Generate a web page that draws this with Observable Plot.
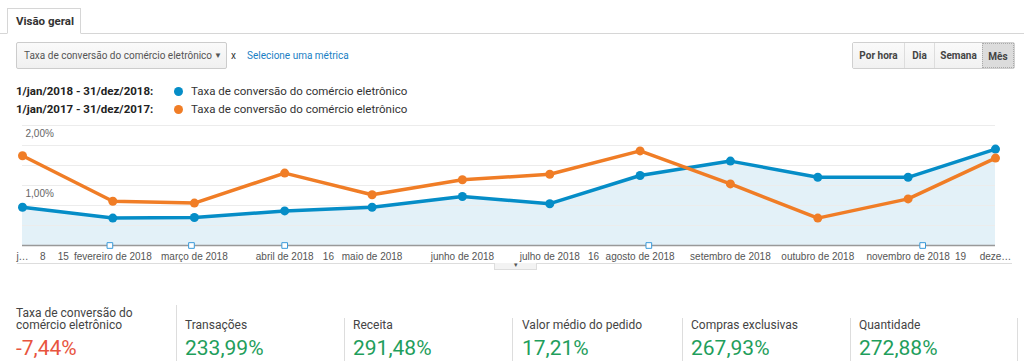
<!DOCTYPE html>
<html><head><meta charset="utf-8">
<script src="https://cdn.jsdelivr.net/npm/d3@7"></script>
<script src="https://cdn.jsdelivr.net/npm/@observablehq/plot@0.6"></script>
<style>
html,body{margin:0;padding:0;background:#fff;}
#root{position:relative;width:1024px;height:361px;overflow:hidden;font-family:Roboto,"Liberation Sans",Arial,sans-serif;color:#333;}
.abs{position:absolute;white-space:nowrap;}
.tabline{position:absolute;left:0;top:33px;width:1024px;height:1px;background:#d6d6d6;}
.tab{position:absolute;left:7px;top:8px;width:74px;height:26px;border:1px solid #d6d6d6;border-bottom:1px solid #fff;background:#fff;box-sizing:border-box;font-weight:bold;font-size:11.5px;color:#333;line-height:25px;padding-left:8px;white-space:nowrap;}
.dd{position:absolute;left:16px;top:42px;width:211px;height:27px;border:1px solid #ccc;border-radius:2px;box-sizing:border-box;background:linear-gradient(#fafafa,#f0f0f0);font-size:10px;color:#555;line-height:25px;padding-left:7px;white-space:nowrap;}
.dd .arr{position:absolute;left:197px;top:0;font-size:8px;color:#555;}
.btns{position:absolute;left:852px;top:42px;height:27px;display:flex;border:1px solid #d0d0d0;border-radius:2px;box-sizing:border-box;}
.btns div{font-size:10px;font-weight:bold;color:#444;line-height:25px;text-align:center;background:linear-gradient(#fafafa,#f1f1f1);border-left:1px solid #ddd;box-sizing:border-box;white-space:nowrap;}
.btns div:first-child{border-left:none;}
.btns div.sel{background:#dcdcdc;border:1px dotted #aaa;}
.leg{position:absolute;font-size:11.5px;width:500px;height:16px;white-space:nowrap;}
.leg b{position:absolute;left:0;top:0;color:#222;white-space:nowrap;}
.leg .dot{position:absolute;left:158px;top:3px;width:9px;height:9px;border-radius:50%;}
.leg .t{position:absolute;left:175px;top:0;color:#333;white-space:nowrap;}
.mlabel{position:absolute;font-size:12px;color:#444;line-height:12px;white-space:nowrap;}
.mval{position:absolute;font-size:21px;line-height:21px;white-space:nowrap;}
.vdiv{position:absolute;width:1px;background:#ddd;}
#chart{position:absolute;left:0;top:118px;}
.underline{position:absolute;left:17px;top:263px;width:995px;height:1px;background:#ddd;}
.pull{position:absolute;left:494px;top:263px;width:43px;height:7px;border:1px solid #ddd;border-top:none;background:#f3f3f3;box-sizing:border-box;font-size:7px;line-height:5px;text-align:center;color:#555;}
</style></head>
<body><div id="root">
<div class="tabline"></div>
<div class="tab">Visão geral</div>
<div class="dd">Taxa de conversão do comércio eletrônico<span class="arr">▼</span></div>
<div class="abs" style="left:231px;top:50px;font-size:10px;color:#333;">x</div>
<div class="abs" style="left:247px;top:50px;font-size:10px;color:#1a80c4;">Selecione uma métrica</div>
<div class="btns">
  <div style="width:51px">Por hora</div>
  <div style="width:30px">Dia</div>
  <div style="width:48px">Semana</div>
  <div class="sel" style="width:32px">Mês</div>
</div>
<div id="legend"></div>
<div id="chart"></div>
<div class="underline"></div>
<div class="pull">▾</div>
<div id="metrics"></div>
</div>
<script>
// ---- data ----
const months = ["2018-01-01","2018-02-01","2018-03-01","2018-04-01","2018-05-01","2018-06-01","2018-07-01","2018-08-01","2018-09-01","2018-10-01","2018-11-01","2018-12-01"];
const rate2018 = [0.97, 0.79, 0.80, 0.91, 0.97, 1.15, 1.03, 1.50, 1.74, 1.47, 1.47, 1.94];
const rate2017 = [1.83, 1.07, 1.04, 1.54, 1.18, 1.43, 1.52, 1.91, 1.36, 0.79, 1.11, 1.79];
const seriesNames = ["1/jan/2018 - 31/dez/2018:", "1/jan/2017 - 31/dez/2017:"];
const seriesLabel = "Taxa de conversão do comércio eletrônico";
const seriesColors = ["#058dc7", "#f07d26"];
const xTickDates = ["2018-01-01","2018-01-08","2018-01-15","2018-02-01","2018-03-01","2018-04-01","2018-04-16","2018-05-01","2018-06-01","2018-07-01","2018-07-16","2018-08-01","2018-09-01","2018-10-01","2018-11-01","2018-11-19","2018-12-01"];
const xTickLabels = ["j…","8","15","fevereiro de 2018","março de 2018","abril de 2018","16","maio de 2018","junho de 2018","julho de 2018","16","agosto de 2018","setembro de 2018","outubro de 2018","novembro de 2018","19","deze…"];
const yTicks = [1, 2];
const yTickLabels = ["1,00%", "2,00%"];
const yGrid = [0.667, 1, 1.333, 1.667, 2, 2.333];
const yDomain = [0.3333, 2.3333];
const annotationDates = ["2018-01-31","2018-02-28","2018-04-01","2018-08-04","2018-11-06"];
const metricNames = ["Taxa de conversão do\ncomércio eletrônico","Transações","Receita","Valor médio do pedido","Compras exclusivas","Quantidade"];
const metricValues = ["-7,44%","233,99%","291,48%","17,21%","267,93%","272,88%"];

// ---- legend ----
const legend = document.getElementById("legend");
seriesNames.forEach((n, i) => {
  const d = document.createElement("div");
  d.className = "leg";
  d.style.left = "16px"; d.style.top = (84 + i * 18) + "px";
  d.innerHTML = `<b>${n}</b><span class="dot" style="background:${seriesColors[i]};"></span><span class="t">${seriesLabel}</span>`;
  legend.appendChild(d);
});

// ---- chart ----
const parse = d3.utcParse("%Y-%m-%d");
const d2018 = months.map((m, i) => ({date: parse(m), value: rate2018[i]}));
const d2017 = months.map((m, i) => ({date: parse(m), value: rate2017[i]}));
const ticks = xTickDates.map((t, i) => ({date: parse(t), label: xTickLabels[i]}));
const ann = annotationDates.map(parse);
const x0 = parse(months[0]);

const chart = Plot.plot({
  width: 1024, height: 150,
  marginLeft: 22, marginRight: 29, marginTop: 7, marginBottom: 23,
  x: {type: "utc", domain: [parse(months[0]), parse(months[months.length-1])], axis: null},
  y: {domain: yDomain, axis: null},
  style: {fontFamily: "'Liberation Sans', Arial, sans-serif", fontSize: "10px", color: "#555", background: "transparent", overflow: "visible"},
  marks: [
    Plot.areaY(d2018, {x: "date", y1: yDomain[0], y2: "value", fill: "#e3f1f8"}),
    Plot.ruleY(yGrid, {stroke: "#ececec", strokeWidth: 1}),
    Plot.ruleY([yDomain[0]], {stroke: "#999", strokeWidth: 1.5}),
    Plot.text(yTicks, {x: () => x0, y: d => d, text: (d, i) => yTickLabels[i], dx: 3, dy: -12, textAnchor: "start", fill: "#666", fontSize: 10}),
    Plot.line(d2018, {x: "date", y: "value", stroke: seriesColors[0], strokeWidth: 3.5}),
    Plot.line(d2017, {x: "date", y: "value", stroke: seriesColors[1], strokeWidth: 3.5}),
    Plot.dot(d2018, {x: "date", y: "value", fill: seriesColors[0], r: 4.5}),
    Plot.dot(d2017, {x: "date", y: "value", fill: seriesColors[1], r: 4.5}),
    Plot.dot(ann, {x: d => d, y: () => yDomain[0], symbol: "square", r: 3.2, fill: "#fff", stroke: "#3a9ad9", strokeWidth: 1}),
    Plot.text(ticks, {x: "date", y: () => yDomain[0], text: "label", dy: 11, fill: "#555", fontSize: 10})
  ]
});
document.getElementById("chart").appendChild(chart);

// ---- metrics ----
const metricX = [16, 185, 353, 522, 691, 859];
const divX = [176, 344, 512, 682, 850, 1017];
const metrics = document.getElementById("metrics");
metricNames.forEach((n, i) => {
  const lines = n.split("\n");
  lines.forEach((l, j) => {
    const e = document.createElement("div");
    e.className = "mlabel";
    e.style.left = metricX[i] + "px";
    e.style.top = (lines.length > 1 ? 307 + j * 12 : 319) + "px";
    e.textContent = l;
    metrics.appendChild(e);
  });
  const v = document.createElement("div");
  v.className = "mval";
  v.style.left = metricX[i] + "px";
  v.style.top = "338px";
  v.style.color = metricValues[i].startsWith("-") ? "#e8543e" : "#1f9e5c";
  v.textContent = metricValues[i];
  metrics.appendChild(v);
});
divX.forEach((x, i) => {
  const d = document.createElement("div");
  d.className = "vdiv";
  d.style.left = x + "px";
  const top = i === 0 ? 305 : 318;
  d.style.top = top + "px";
  d.style.height = (361 - top) + "px";
  metrics.appendChild(d);
});
</script>
</body></html>
